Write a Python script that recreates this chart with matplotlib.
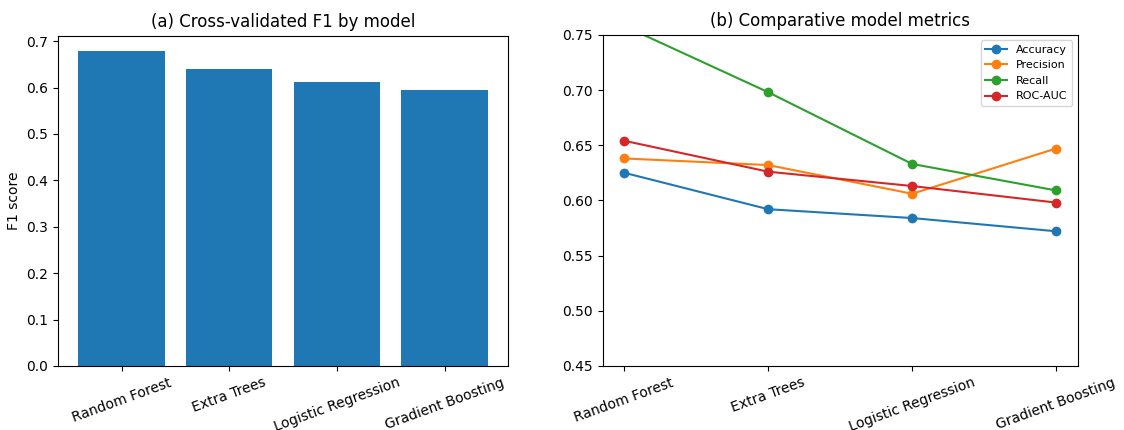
import matplotlib.pyplot as plt

# modelli e metriche
models = ['Random Forest', 'Extra Trees', 'Logistic Regression', 'Gradient Boosting']
f1_cv = [0.678, 0.641, 0.613, 0.594]

accuracy = [0.625, 0.592, 0.584, 0.572]
precision = [0.638, 0.632, 0.606, 0.647]
recall = [0.758, 0.698, 0.633, 0.609]
roc_auc = [0.654, 0.626, 0.613, 0.598]

fig = plt.figure(figsize=(11.24, 4.3), dpi=100)
ax1 = fig.add_axes([0.0516, 0.149, 0.4004, 0.768])
ax2 = fig.add_axes([0.5362, 0.149, 0.4226, 0.770])

# (a) barre F1
ax1.bar(models, f1_cv, color='#1f77b4')
ax1.set_ylabel('F1 score')
ax1.set_title('(a) Cross-validated F1 by model')
ax1.tick_params(axis='x', labelrotation=20)

# (b) confronto metriche
ax2.plot(models, accuracy, marker='o', label='Accuracy')
ax2.plot(models, precision, marker='o', label='Precision')
ax2.plot(models, recall, marker='o', label='Recall')
ax2.plot(models, roc_auc, marker='o', label='ROC-AUC')
ax2.set_ylim(0.45, 0.75)
ax2.set_title('(b) Comparative model metrics')
ax2.tick_params(axis='x', labelrotation=20)
ax2.legend(fontsize=8, loc='upper right')

plt.savefig('out.png', dpi=100)
